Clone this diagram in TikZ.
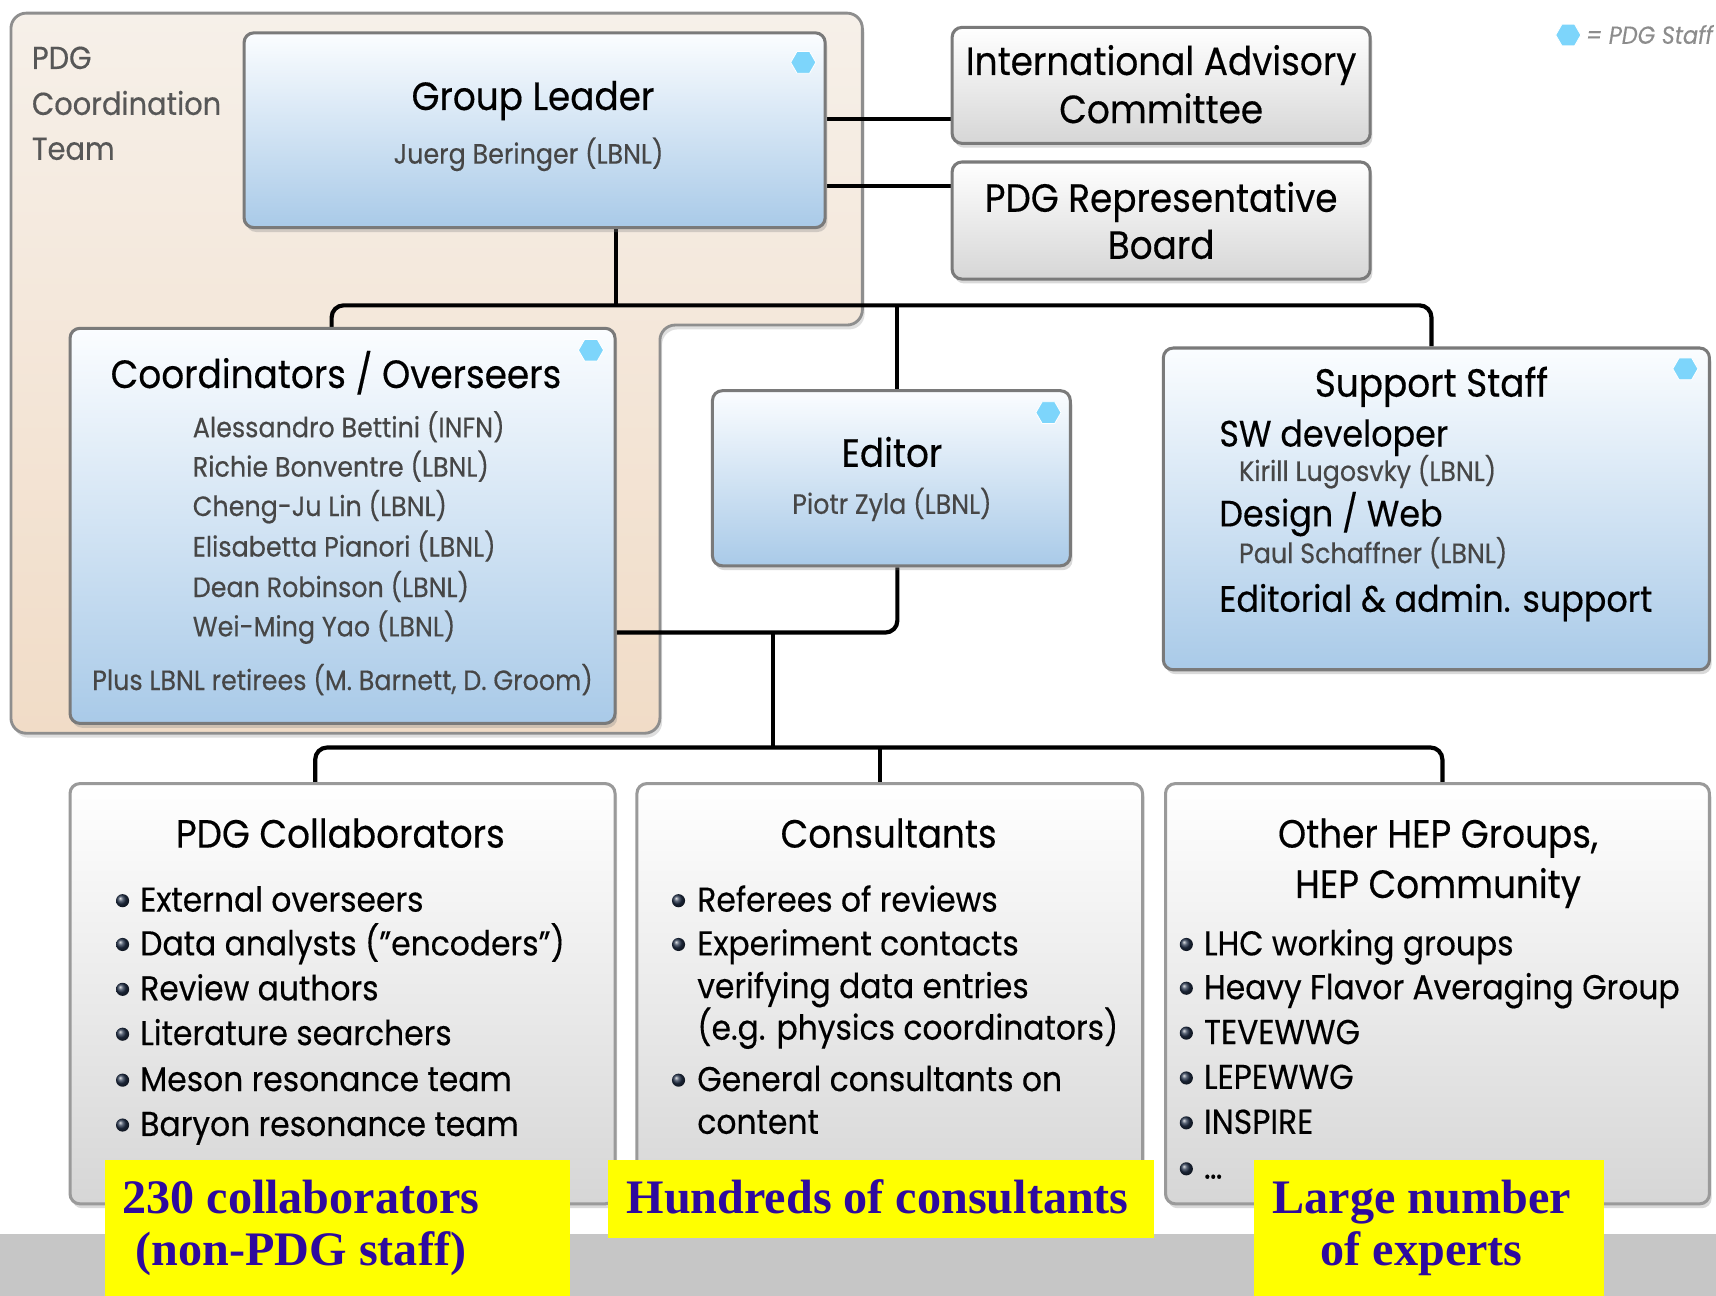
\documentclass[tikz,border=0pt]{standalone}
\usepackage{fontspec}
\setmainfont[FakeStretch=0.91,FakeBold=0.35]{Poppins}
\newfontfamily\timesfont{Liberation Serif}
\usetikzlibrary{shapes.geometric,shadows,backgrounds}

\definecolor{boxline}{HTML}{7A7A7A}
\definecolor{lightline}{HTML}{9A9A9A}
\definecolor{bluetop}{HTML}{FBFDFF}
\definecolor{bluebot}{HTML}{A9CAE8}
\definecolor{graybot}{HTML}{D6D6D6}
\definecolor{beigetop}{HTML}{F6F0E9}
\definecolor{beigebot}{HTML}{F1DCC7}
\definecolor{hexblue}{HTML}{7DD5FB}
\definecolor{namegray}{HTML}{464646}
\definecolor{teamgray}{HTML}{575757}
\definecolor{legendgray}{HTML}{8C8C8C}
\definecolor{hiliteyellow}{HTML}{FFFF00}
\definecolor{navytext}{HTML}{2E0A9E}
\definecolor{bandgray}{HTML}{C6C6C6}
\definecolor{bulletcol}{HTML}{24324A}

\newcommand\fsz[1]{\fontsize{#1}{#1}\selectfont}

\tikzset{
  card/.style={rectangle, inner sep=0pt, line width=2.8pt, rounded corners=9pt,
    drop shadow={shadow xshift=2pt, shadow yshift=-4pt, opacity=0.3}},
  bluecard/.style={card, draw=boxline, top color=bluetop, bottom color=bluebot},
  graycard/.style={card, draw=boxline, top color=white, bottom color=graybot},
  lowcard/.style={card, draw=lightline, top color=white, bottom color=graybot},
  conn/.style={line width=3.8pt, black, rounded corners=11pt},
  title/.style={anchor=base, inner sep=0pt, font=\fsz{36}},
  subhead/.style={anchor=base west, inner sep=0pt, font=\fsz{33.5}},
  person/.style={anchor=base, inner sep=0pt, font=\fsz{25.5}, text=namegray},
  personw/.style={anchor=base west, inner sep=0pt, font=\fsz{25.5}, text=namegray},
  team/.style={anchor=base west, inner sep=0pt, font=\fsz{29}, text=teamgray},
  item/.style={anchor=base west, inner sep=0pt, font=\fsz{31.5}},
  dot/.style={circle, inner sep=0pt, minimum size=12pt, ball color=bulletcol},
  hex/.style={regular polygon, regular polygon sides=6, minimum size=23pt,
    inner sep=0pt, fill=hexblue, draw=white, line width=0.8pt},
  hilite/.style={rectangle, inner sep=0pt, fill=hiliteyellow},
  big/.style={anchor=base, inner sep=0pt, font=\timesfont\bfseries\fsz{44}, text=navytext}
}

\begin{document}
\begin{tikzpicture}[x=1pt,y=-1pt]
\useasboundingbox (0,0) rectangle (1568,1184);

% boxes
\node[bluecard, minimum width=531pt, minimum height=178pt] (gl) at (488.5,119) {};
\node[graycard, minimum width=382pt, minimum height=106pt] (iac) at (1061,78) {};
\node[graycard, minimum width=382pt, minimum height=107pt] (prb) at (1061,201.5) {};
\node[bluecard, minimum width=498pt, minimum height=361pt] (coord) at (313,480.5) {};
\node[bluecard, minimum width=327pt, minimum height=160pt] (editor) at (814.5,437) {};
\node[bluecard, minimum width=499pt, minimum height=294pt] (support) at (1312.5,465) {};
\node[lowcard, minimum width=498pt, minimum height=384pt] (collab) at (313,908) {};
\node[lowcard, minimum width=462pt, minimum height=384pt] (consult) at (813,908) {};
\node[lowcard, minimum width=497pt, minimum height=384pt] (other) at (1313.5,908) {};

\begin{scope}[on background layer]
% coordination team background (L-shaped)
\draw[line width=2.6pt, draw=boxline!85, top color=beigetop, bottom color=beigebot,
      rounded corners=14pt, drop shadow={shadow xshift=2pt, shadow yshift=-4pt, opacity=0.25}]
  (10,12) -- (788,12) -- (788,297) -- (603,297) -- (603,670) -- (10,670) -- cycle;

% connectors
\coordinate (topbus) at (563,279);
\coordinate (lowjoin) at (706,578);
\coordinate (lowbus) at (706,683);
\draw[conn] (gl.east |- 0,109) -- (iac.west |- 0,109);
\draw[conn] (gl.east |- 0,170) -- (prb.west |- 0,170);
\draw[conn] (topbus |- gl.south) -- (topbus);
\draw[conn] (303,0 |- coord.north) -- (303,0 |- topbus) -- (1308,0 |- topbus) -- (1308,0 |- support.north);
\draw[conn] (820,0 |- topbus) -- (820,0 |- editor.north);
\draw[conn] (coord.east |- lowjoin) -- (820,0 |- lowjoin) -- (820,0 |- editor.south);
\draw[conn] (lowjoin) -- (lowbus);
\draw[conn] (288,0 |- collab.north) -- (288,0 |- lowbus) -- (1318,0 |- lowbus) -- (1318,0 |- other.north);
\draw[conn] (804,0 |- lowbus) -- (804,0 |- consult.north);
\end{scope}

\node[team] (teamA) at (29,63) {PDG};
\node[team] (teamB) at (29,105) {Coordination};
\node[team] (teamC) at (29,146) {Team};

% legend
\node[hex] (leghex) at (1433,32) {};
\node[anchor=base west, inner sep=0pt, font=\itshape\fsz{22.5}, text=legendgray] (legtxt) at (1449,40) {= PDG Staff};

% staff markers
\node[hex] (hexgl) at (734,57) {};
\node[hex] (hexco) at (540,320) {};
\node[hex] (hexed) at (958,377) {};
\node[hex] (hexsu) at (1540,337) {};

% group leader
\node[title] (glT) at (487,100.5) {Group Leader};
\node[person] (glP) at (483,149.5) {Juerg Beringer (LBNL)};

% advisory bodies
\node[title] (iacA) at (1061,68.5) {International Advisory};
\node[title] (iacB) at (1061,112.5) {Committee};
\node[title] (prbA) at (1061,193.5) {PDG Representative};
\node[title] (prbB) at (1061,236.5) {Board};

% coordinators
\node[title] (coT) at (307,354.5) {Coordinators / Overseers};
\node[personw] (co1) at (176,399.5) {Alessandro Bettini (INFN)};
\node[personw] (co2) at (176,435.5) {Richie Bonventre (LBNL)};
\node[personw] (co3) at (176,471.5) {Cheng-Ju Lin (LBNL)};
\node[personw] (co4) at (176,508.5) {Elisabetta Pianori (LBNL)};
\node[personw] (co5) at (176,545.5) {Dean Robinson (LBNL)};
\node[personw] (co6) at (176,581.5) {Wei-Ming Yao (LBNL)};
\node[person] (co7) at (313,630.5) {Plus LBNL retirees (M. Barnett, D. Groom)};

% editor
\node[title] (edT) at (815,426.5) {Editor};
\node[person] (edP) at (815,469.5) {Piotr Zyla (LBNL)};

% support staff
\node[title] (suT) at (1308,362.5) {Support Staff};
\node[subhead] (su1) at (1114,408) {SW developer};
\node[personw] (su1p) at (1132,439.5) {Kirill Lugosvky (LBNL)};
\node[subhead] (su2) at (1114,481) {Design / Web};
\node[personw] (su2p) at (1132,514.5) {Paul Schaffner (LBNL)};
\node[subhead] (su3) at (1114,559) {Editorial \& admin. support};

% collaborators
\node[title] (clT) at (311,774.5) {PDG Collaborators};
\node[item] (cl1) at (128,833) {External overseers};
\node[item] (cl2) at (128,873) {Data analysts (\textquotedblright encoders\textquotedblright)};
\node[item] (cl3) at (128,914) {Review authors};
\node[item] (cl4) at (128,955) {Literature searchers};
\node[item] (cl5) at (128,997) {Meson resonance team};
\node[item] (cl6) at (128,1038) {Baryon resonance team};
\foreach \y [count=\i] in {823,863,904,945,987,1028} {
  \node[dot] (cld\i) at (112,\y) {};
}

% consultants
\node[title] (csT) at (812,774.5) {Consultants};
\node[item] (cs1) at (637,833) {Referees of reviews};
\node[item] (cs2) at (637,873) {Experiment contacts};
\node[item] (cs3) at (637,912) {verifying data entries};
\node[item] (cs4) at (637,950) {(e.g. physics coordinators)};
\node[item] (cs5) at (637,997) {General consultants on};
\node[item] (cs6) at (637,1036) {content};
\node[dot] (csd1) at (620,823) {};
\node[dot] (csd2) at (620,863) {};
\node[dot] (csd5) at (620,987) {};

% other groups
\node[title] (otA) at (1314,774.5) {Other HEP Groups,};
\node[title] (otB) at (1314,820.5) {HEP Community};
\node[item] (ot1) at (1100,873) {LHC working groups};
\node[item] (ot2) at (1100,913) {Heavy Flavor Averaging Group};
\node[item] (ot3) at (1100,954) {TEVEWWG};
\node[item] (ot4) at (1100,995) {LEPEWWG};
\node[item] (ot5) at (1100,1036) {INSPIRE};
\node[item] (ot6) at (1100,1077) {\ldots};
\foreach \y [count=\i] in {863,903,944,985,1026,1068} {
  \node[dot] (otd\i) at (1084,\y) {};
}

% bottom band and highlights
\fill[bandgray] (0,1128) rectangle (1568,1184);
\node[hilite, minimum width=425pt, minimum height=124pt] (hl1) at (308.5,1122) {};
\node[hilite, minimum width=498pt, minimum height=71pt] (hl2) at (805,1095.5) {};
\node[hilite, minimum width=320pt, minimum height=124pt] (hl3) at (1306,1122) {};
\node[big] (hl1a) at (275,1109) {230 collaborators};
\node[big] (hl1b) at (275,1156) {(non-PDG staff)};
\node[big] (hl2a) at (802,1109) {Hundreds of consultants};
\node[big] (hl3a) at (1299,1109) {Large number};
\node[big] (hl3b) at (1299,1156) {of experts};
\end{tikzpicture}
\end{document}
